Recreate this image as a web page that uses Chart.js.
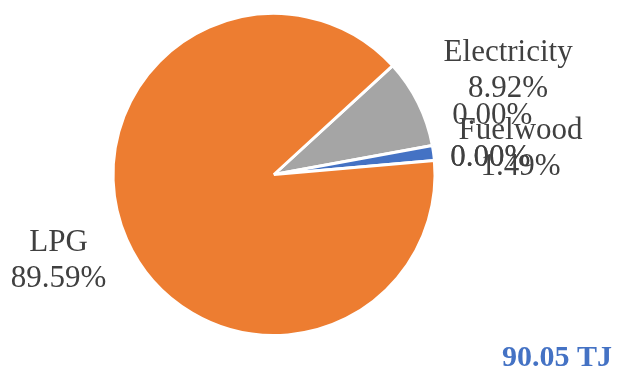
<!DOCTYPE html>
<html>
<head>
<meta charset="utf-8">
<script src="https://cdn.jsdelivr.net/npm/chart.js@4.4.0/dist/chart.umd.min.js"></script>
<style>
  html, body { margin: 0; padding: 0; background: #fff; }
  #wrap { width: 619px; height: 369px; position: relative; }
</style>
</head>
<body>
<div id="wrap"><canvas id="energyPie"></canvas></div>
<script>
// Fuel shares (%), in drawing order clockwise
const categories = ['Electricity', '', 'Fuelwood', '', '', 'LPG'];
const shares = [8.92, 0.00, 1.49, 0.00, 0.00, 89.59];
const sliceColors = ['#A5A5A5', '#FFC000', '#4472C4', '#5B9BD5', '#70AD47', '#ED7D31'];
const totalLabel = '90.05 TJ';

// label placement: offset from the slice's outer edge at its mid angle
const labelOffsets = [[90, -32], [60, -30], [87, -4], [56, -3], [56, -3], [-68, 21]];

const labelFont = '31px "Liberation Serif", "Times New Roman", serif';
const lineGap = 36;

const pieLabels = {
  id: 'pieLabels',
  afterDraw(chart) {
    const ctx = chart.ctx;
    const arcs = chart.getDatasetMeta(0).data;
    ctx.save();
    ctx.font = labelFont;
    ctx.fillStyle = '#404040';
    ctx.textAlign = 'center';
    ctx.textBaseline = 'middle';
    arcs.forEach((arc, i) => {
      const { x, y, startAngle, endAngle, outerRadius } = arc.getProps(['x', 'y', 'startAngle', 'endAngle', 'outerRadius'], true);
      const mid = (startAngle + endAngle) / 2;
      const px = x + Math.cos(mid) * outerRadius + labelOffsets[i][0];
      const py = y + Math.sin(mid) * outerRadius + labelOffsets[i][1];
      const pct = shares[i].toFixed(2) + '%';
      if (categories[i]) {
        ctx.fillText(categories[i], px, py - lineGap / 2);
        ctx.fillText(pct, px, py + lineGap / 2);
      } else {
        ctx.fillText(pct, px, py);
      }
    });

    // total energy note, bottom right
    ctx.font = 'bold 30px "Liberation Serif", "Times New Roman", serif';
    ctx.fillStyle = '#4472C4';
    ctx.textAlign = 'right';
    ctx.textBaseline = 'alphabetic';
    ctx.fillText(totalLabel, 612, 366);
    ctx.restore();
  }
};

new Chart(document.getElementById('energyPie'), {
  type: 'pie',
  data: {
    labels: categories,
    datasets: [{
      data: shares,
      backgroundColor: sliceColors,
      borderColor: '#ffffff',
      borderWidth: 3,
      radius: 161
    }]
  },
  options: {
    responsive: true,
    maintainAspectRatio: false,
    animation: false,
    rotation: 47.5,
    layout: { padding: { left: 0, right: 71, top: 0, bottom: 20 } },
    plugins: {
      legend: { display: false },
      tooltip: { enabled: false }
    }
  },
  plugins: [pieLabels]
});
</script>
</body>
</html>
